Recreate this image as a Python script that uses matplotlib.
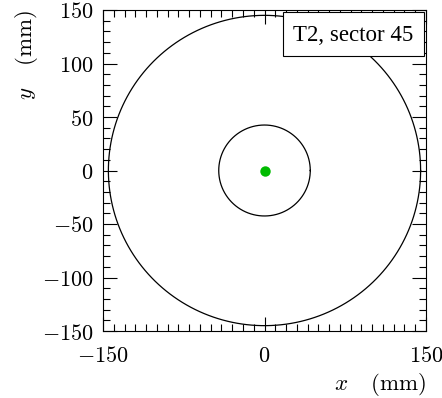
import numpy as np
import matplotlib
matplotlib.use("Agg")
import matplotlib.pyplot as plt
from matplotlib.ticker import MultipleLocator, FixedLocator
from matplotlib.patches import Rectangle

plt.rcParams['mathtext.fontset'] = 'cm'
plt.rcParams['font.family'] = 'serif'
plt.rcParams['font.serif'] = ['DejaVu Serif']

# detector geometry (mm)
outer_radius = 145.0
inner_radius = 42.5
beam_x = [0.0]
beam_y = [0.0]
xticks = [-150, 0, 150]
yticks = [-150, -100, -50, 0, 50, 100, 150]
title = "T2, sector 45"


def fmt(v):
    if v < 0:
        return r'$\boldsymbol{-}%d$' % (-v)
    return r'$%d$' % v


fig = plt.figure(figsize=(4.42, 3.98), dpi=100)
ax = fig.add_axes([103 / 442, 1 - 331 / 398, 323 / 442, 321 / 398])

phi = np.linspace(0, 2 * np.pi, 400)
for r in [outer_radius, inner_radius]:
    ax.plot(r * np.cos(phi), r * np.sin(phi), color='black', lw=0.9)
ax.plot(beam_x, beam_y, 'o', color='#00bb00', ms=7.5, mec='none')

ax.set_xlim(-150, 150)
ax.set_ylim(-150, 150)

ax.xaxis.set_major_locator(FixedLocator(xticks))
ax.yaxis.set_major_locator(FixedLocator(yticks))
ax.xaxis.set_minor_locator(MultipleLocator(10))
ax.yaxis.set_minor_locator(MultipleLocator(10))
ax.set_xticklabels([fmt(v) for v in xticks])
ax.set_yticklabels([fmt(v) for v in yticks])
ax.tick_params(which='both', direction='in', top=True, right=True, labelsize=16)
ax.tick_params(which='major', length=10, width=0.8)
ax.tick_params(which='minor', length=5, width=0.8)
ax.tick_params(axis='x', which='major', pad=10)
ax.tick_params(axis='y', which='major', pad=7)

ax.set_xlabel(r'$x\quad\,(\mathrm{mm})$', fontsize=16.5, loc='right', labelpad=3)
ax.set_ylabel(r'$y\quad\,(\mathrm{mm})$', fontsize=16.5, loc='top', labelpad=1)

ax.add_patch(Rectangle((0.557, 0.857), 0.437, 0.137, transform=ax.transAxes,
                       fc='white', ec='black', lw=0.8, zorder=5))
ax.text(0.7755, 0.922, title, transform=ax.transAxes, ha='center', va='center',
        fontsize=16.5, family='Liberation Serif', zorder=6)

fig.savefig('out.png', dpi=100)
